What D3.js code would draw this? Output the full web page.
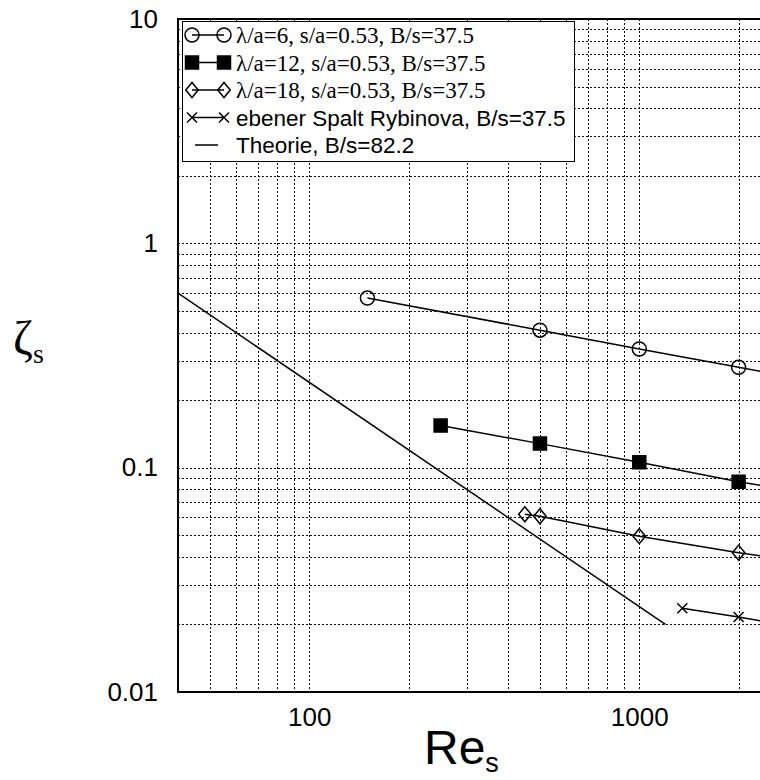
<!DOCTYPE html>
<html>
<head>
<meta charset="utf-8">
<script src="https://cdn.jsdelivr.net/npm/d3@7"></script>
<style>
  html, body { margin: 0; padding: 0; background: #fff; }
  svg { display: block; }
</style>
</head>
<body>
<svg id="chart" width="760" height="780"></svg>
<script>
// Axis ticks and their labels
const xTickValues = [100, 1000];
const xTickLabels = ["100", "1000"];
const yTickValues = [0.01, 0.1, 1, 10];
const yTickLabels = ["0.01", "0.1", "1", "10"];

// Measured pressure loss coefficient vs. slot Reynolds number
const reLambda6 = [150, 500, 1000, 2000, 4000];
const zetaLambda6 = [0.57, 0.41, 0.338, 0.28, 0.232];

const reLambda12 = [250, 500, 1000, 2000, 4000];
const zetaLambda12 = [0.154, 0.128, 0.1056, 0.0865, 0.073];

const reLambda18 = [450, 500, 1000, 2000, 4000];
const zetaLambda18 = [0.062, 0.0607, 0.0495, 0.0418, 0.036];

const reRybinova = [1350, 2000, 4000];
const zetaRybinova = [0.0236, 0.0216, 0.018];

// Laminar theory, zeta = 24 / Re
const reTheory = [40, 1200];
const zetaTheory = [0.6, 0.02];

const legendLabels = [
  "\u03bb/a=6, s/a=0.53, B/s=37.5",
  "\u03bb/a=12, s/a=0.53, B/s=37.5",
  "\u03bb/a=18, s/a=0.53, B/s=37.5",
  "ebener Spalt Rybinova, B/s=37.5",
  "Theorie, B/s=82.2"
];

const SERIF = "'Liberation Serif', 'Times New Roman', serif";
const SANS = "'Liberation Sans', Arial, sans-serif";

const svg = d3.select("#chart");
const plot = { left: 178, top: 19, right: 770.6, bottom: 692 };

const x = d3.scaleLog().domain([40, 2500]).range([plot.left, plot.right]);
const y = d3.scaleLog().domain([0.01, 10]).range([plot.bottom, plot.top]);

svg.append("rect").attr("width", 760).attr("height", 780).attr("fill", "#fff");

svg.append("defs").append("clipPath").attr("id", "plotClip")
  .append("rect")
  .attr("x", plot.left).attr("y", plot.top)
  .attr("width", plot.right - plot.left).attr("height", plot.bottom - plot.top);

// Marker shapes
const diamondType = {
  draw(ctx, size) {
    const h = Math.sqrt(size) * 0.56, w = h * 0.83;
    ctx.moveTo(0, -h); ctx.lineTo(w, 0); ctx.lineTo(0, h); ctx.lineTo(-w, 0); ctx.closePath();
  }
};
const crossType = {
  draw(ctx, size) {
    const r = Math.sqrt(size) / 2;
    ctx.moveTo(-r, -r); ctx.lineTo(r, r);
    ctx.moveTo(r, -r); ctx.lineTo(-r, r);
  }
};

const series = [
  { re: reLambda6, zeta: zetaLambda6, type: d3.symbolCircle, size: 154, fill: "none", font: SERIF },
  { re: reLambda12, zeta: zetaLambda12, type: d3.symbolSquare, size: 169, fill: "#000", font: SERIF },
  { re: reLambda18, zeta: zetaLambda18, type: diamondType, size: 180, fill: "none", font: SERIF },
  { re: reRybinova, zeta: zetaRybinova, type: crossType, size: 100, fill: "none", font: SANS },
  { re: reTheory, zeta: zetaTheory, type: null, size: 0, fill: "none", font: SANS }
];
series.forEach((s, i) => {
  s.label = legendLabels[i];
  s.points = s.re.map((r, j) => [r, s.zeta[j]]);
});

// Dotted grid
const grid = svg.append("g").attr("clip-path", "url(#plotClip)")
  .attr("stroke", "#111").attr("stroke-width", 1).attr("stroke-dasharray", "2,2");
const [x0, x1] = x.domain();
const [y0, y1] = y.domain();
grid.selectAll("line.gx")
  .data(x.ticks().filter(v => v > x0 && v < x1))
  .join("line")
  .attr("x1", d => Math.round(x(d)) + 0.5).attr("x2", d => Math.round(x(d)) + 0.5)
  .attr("y1", plot.top).attr("y2", plot.bottom);
grid.selectAll("line.gy")
  .data(y.ticks().filter(v => v > y0 * 1.0001 && v < y1 * 0.9999))
  .join("line")
  .attr("y1", d => Math.round(y(d)) + 0.5).attr("y2", d => Math.round(y(d)) + 0.5)
  .attr("x1", plot.left).attr("x2", plot.right);

// Series lines and markers
const line = d3.line().x(d => x(d[0])).y(d => y(d[1]));
const data = svg.append("g").attr("clip-path", "url(#plotClip)");
series.forEach(s => {
  data.append("path")
    .attr("d", line(s.points))
    .attr("fill", "none").attr("stroke", "#000").attr("stroke-width", 1.5);
  if (s.type) {
    data.selectAll(null)
      .data(s.points)
      .join("path")
      .attr("transform", d => `translate(${x(d[0])},${y(d[1])})`)
      .attr("d", d3.symbol(s.type, s.size))
      .attr("fill", s.fill).attr("stroke", "#000").attr("stroke-width", 1.5);
  }
});

// Legend
const legend = svg.append("g");
legend.append("rect")
  .attr("x", 182.5).attr("y", 21.5).attr("width", 392).attr("height", 140)
  .attr("fill", "#fff").attr("stroke", "#000").attr("stroke-width", 1);
const rowY = i => 35 + i * 27.5;
series.forEach((s, i) => {
  const g = legend.append("g").attr("transform", `translate(0,${rowY(i)})`);
  if (s.type) {
    g.append("line").attr("x1", 192).attr("x2", 224).attr("y1", 0).attr("y2", 0)
      .attr("stroke", "#000").attr("stroke-width", 1.5);
    [192, 224].forEach(px => {
      g.append("path")
        .attr("transform", `translate(${px},0)`)
        .attr("d", d3.symbol(s.type, s.size)())
        .attr("fill", s.fill).attr("stroke", "#000").attr("stroke-width", 1.5);
    });
  } else {
    g.append("line").attr("x1", 195).attr("x2", 218).attr("y1", 0).attr("y2", 0)
      .attr("stroke", "#000").attr("stroke-width", 1.5);
  }
  g.append("text")
    .attr("x", 236).attr("y", 8)
    .attr("font-family", s.font)
    .attr("font-size", s.font === SERIF ? 23 : 22.5)
    .attr("fill", "#000")
    .text(s.label);
});

// Frame
const frame = svg.append("g").attr("stroke", "#000").attr("stroke-width", 2).attr("fill", "none");
frame.append("rect")
  .attr("x", plot.left).attr("y", plot.top)
  .attr("width", plot.right - plot.left).attr("height", plot.bottom - plot.top);

// Tick labels through D3 axes (no tick marks drawn)
const yAxis = d3.axisLeft(y).tickValues(yTickValues)
  .tickFormat((d, i) => yTickLabels[i]).tickSize(0).tickPadding(20);
svg.append("g").attr("transform", `translate(${plot.left},0)`).call(yAxis)
  .call(g => g.select(".domain").remove())
  .selectAll("text")
  .attr("font-family", SANS).attr("font-size", 26).attr("fill", "#000");

const xAxis = d3.axisBottom(x).tickValues(xTickValues)
  .tickFormat((d, i) => xTickLabels[i]).tickSize(0).tickPadding(16);
svg.append("g").attr("transform", `translate(0,${plot.bottom})`).call(xAxis)
  .call(g => g.select(".domain").remove())
  .selectAll("text")
  .attr("font-family", SANS).attr("font-size", 26).attr("fill", "#000");

// Axis titles
const xTitle = svg.append("text").attr("x", 424).attr("y", 764)
  .attr("font-family", SANS).attr("fill", "#000");
xTitle.append("tspan").attr("font-size", 48).text("Re");
xTitle.append("tspan").attr("font-size", 27).attr("dy", 8).text("s");

const yTitle = svg.append("text").attr("x", 13).attr("y", 354)
  .attr("font-family", SERIF).attr("fill", "#000");
yTitle.append("tspan").attr("font-size", 48).text("\u03b6");
yTitle.append("tspan").attr("font-size", 28).attr("dy", 9).text("s");
</script>
</body>
</html>
